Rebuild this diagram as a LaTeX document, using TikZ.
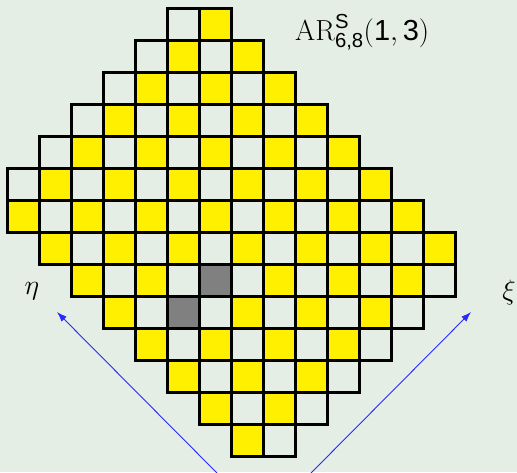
\RequirePackage{fix-cm}
\documentclass[tikz,border=0pt]{standalone}
\usepackage{amsmath}
\usepackage{fontspec}
\setsansfont{Liberation Sans}
\usetikzlibrary{arrows.meta}
\definecolor{bgc}{RGB}{228,238,228}
\definecolor{cellyellow}{RGB}{255,240,0}
\definecolor{cellgray}{RGB}{128,128,128}
\definecolor{axisblue}{RGB}{40,40,255}
\tikzset{
  cellY/.style={fill=cellyellow},
  cellG/.style={fill=cellgray},
  cellline/.style={draw=black,line width=2.4pt},
  axis/.style={draw=axisblue,line width=0.9pt,-{Latex[length=10pt,width=7pt]}},
  lab/.style={font=\fontsize{28}{32}\selectfont,inner sep=0pt}
}
\begin{document}
\begin{tikzpicture}[x=1pt,y=-1pt]
\fill[bgc] (0,0) rectangle (517,472);
\useasboundingbox (0,0) rectangle (517,472);
% fills
\foreach \r/\a/\b in {0/5/6,1/4/7,2/3/8,3/2/9,4/1/10,5/0/11,6/0/12,7/1/13,8/2/13,9/3/12,10/4/11,11/5/10,12/6/9,13/7/8}{
  \foreach \c in {\a,...,\b}{
    \pgfmathtruncatemacro{\p}{mod(\r+\c,2)}
    \ifnum\p=0
      \fill[cellY] (\c*32+7.5,\r*32+8.5) rectangle ++(32,32);
    \fi
  }
}
\fill[cellG] (6*32+7.5,8*32+8.5) rectangle ++(32,32);
\fill[cellG] (5*32+7.5,9*32+8.5) rectangle ++(32,32);
% grid lines
\foreach \r/\a/\b in {0/5/6,1/4/7,2/3/8,3/2/9,4/1/10,5/0/11,6/0/12,7/1/13,8/2/13,9/3/12,10/4/11,11/5/10,12/6/9,13/7/8}{
  \foreach \c in {\a,...,\b}{
    \draw[cellline] (\c*32+7.5,\r*32+8.5) rectangle ++(32,32);
  }
}
% axes
\coordinate (etaStart) at (217,473);
\coordinate (etaEnd) at (57,312);
\coordinate (xiStart) at (311,473);
\coordinate (xiEnd) at (471,312);
\draw[axis] (etaStart) -- (etaEnd);
\draw[axis] (xiStart) -- (xiEnd);
% labels
\node[lab] (eta) at (32,291) {$\eta$};
\node[lab] (xi) at (509,292) {$\xi$};
\node[lab,anchor=base west,font=\fontsize{29}{33}\selectfont] (title) at (295,40.7) {$\mathrm{AR}^{\textsf{S}}_{\textsf{6,8}}(\textsf{1},\textsf{3})$};
\end{tikzpicture}
\end{document}
